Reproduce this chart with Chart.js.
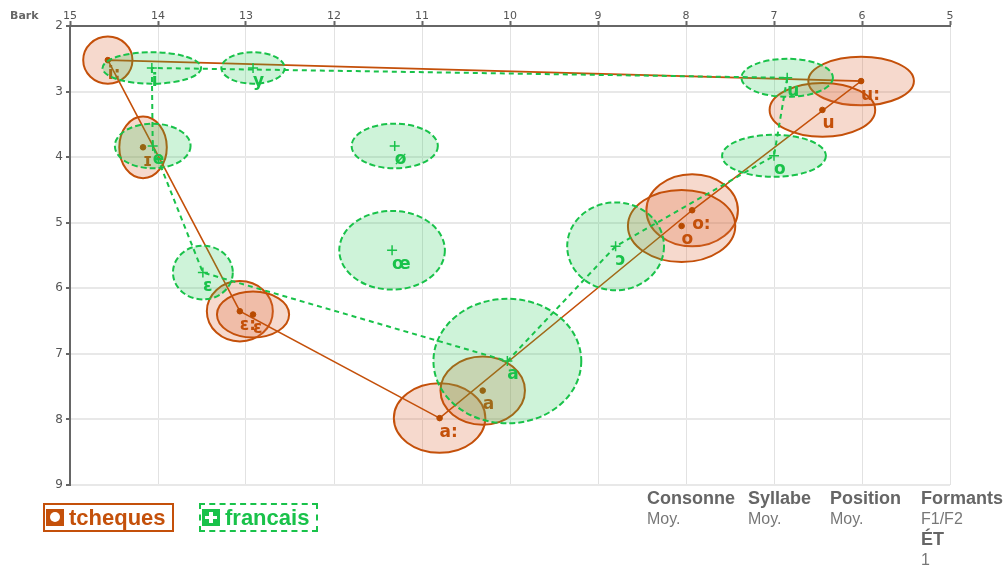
<!DOCTYPE html>
<html>
<head>
<meta charset="utf-8">
<script src="https://cdn.jsdelivr.net/npm/chart.js@4.4.1/dist/chart.umd.min.js"></script>
<style>
  body { margin: 0; background: #fff; }
  #wrap { position: relative; width: 1007px; height: 565px; }
  #vowels { position: absolute; left: 0; top: 0; }
  .bark { position: absolute; left: 10px; top: 9px; font: bold 11px "DejaVu Sans", sans-serif; color: #666; }
  .leg { position: absolute; top: 503px; height: 25px; display: flex; align-items: center; padding: 0 3px 0 1px;
         font: bold 22px "Liberation Sans", Arial, sans-serif; white-space: nowrap; }
  .leg .ic { flex: 0 0 18px; width: 18px; height: 17px; margin-right: 5px; position: relative; }
  .cz { left: 43px; width: 123px; border: 2px solid #c4500a; color: #c4500a; }
  .cz .ic { background: #c4500a; }
  .cz .ic::after { content: ""; position: absolute; left: 4px; top: 3px; width: 10px; height: 10px; background: #fff; border-radius: 50%; }
  .fr { left: 199px; width: 111px; border: 2px dashed #19c24a; color: #19c24a; }
  .fr .ic { background: #19c24a; }
  .fr .ic::before { content: ""; position: absolute; left: 7px; top: 3px; width: 4px; height: 11px; background: #fff; }
  .fr .ic::after { content: ""; position: absolute; left: 3px; top: 7px; width: 12px; height: 3px; background: #fff; }
  .tab { position: absolute; top: 488px; font-family: "Liberation Sans", Arial, sans-serif; color: #666; }
  .tab b { display: block; font-size: 18px; line-height: 21px; }
  .tab span { display: block; font-size: 16px; line-height: 20px; color: #777; }
</style>
</head>
<body>
<div id="wrap">
  <canvas id="vowels" width="1007" height="565"></canvas>
  <div class="bark">Bark</div>
  <div class="leg cz"><span class="ic"></span>tcheques</div>
  <div class="leg fr"><span class="ic"></span>francais</div>
  <div class="tab" style="left:647px"><b>Consonne</b><span>Moy.</span></div>
  <div class="tab" style="left:748px"><b>Syllabe</b><span>Moy.</span></div>
  <div class="tab" style="left:830px"><b>Position</b><span>Moy.</span></div>
  <div class="tab" style="left:921px"><b>Formants</b><span>F1/F2</span><b>ÉT</b><span>1</span></div>
</div>
<script>
// Czech vowels (Bark)
const czLabels = ["i:", "ɪ", "ɛ:", "ɛ", "a:", "a", "o:", "o", "u:", "u"];
const czF2 = [14.57, 14.17, 13.07, 12.92, 10.80, 10.31, 7.93, 8.05, 6.01, 6.45];
const czF1 = [2.52, 3.85, 6.35, 6.40, 7.98, 7.56, 4.81, 5.05, 2.84, 3.28];
const czSdF2 = [0.28, 0.27, 0.375, 0.41, 0.52, 0.48, 0.52, 0.61, 0.60, 0.60];
const czSdF1 = [0.36, 0.47, 0.46, 0.35, 0.53, 0.52, 0.55, 0.55, 0.37, 0.41];
const czPath = ["i:", "ɛ:", "a:", "o:", "u:", "i:"];

// French vowels (Bark)
const frLabels = ["i", "y", "e", "ø", "ɛ", "œ", "a", "ɔ", "o", "u"];
const frF2 = [14.07, 12.92, 14.06, 11.31, 13.49, 11.34, 10.03, 8.80, 7.00, 6.85];
const frF1 = [2.64, 2.64, 3.83, 3.83, 5.76, 5.42, 7.11, 5.36, 3.98, 2.79];
const frSdF2 = [0.56, 0.36, 0.43, 0.49, 0.34, 0.60, 0.84, 0.55, 0.59, 0.52];
const frSdF1 = [0.24, 0.24, 0.34, 0.34, 0.41, 0.60, 0.95, 0.67, 0.32, 0.29];
const frPath = ["i", "e", "ɛ", "a", "ɔ", "o", "u", "i"];

const xTicks = [15, 14, 13, 12, 11, 10, 9, 8, 7, 6, 5];
const yTicks = [2, 3, 4, 5, 6, 7, 8, 9];

const ORANGE = "#c4500a";
const GREEN = "#19c24a";

const points = (labels, f2, f1) => labels.map((l, i) => ({ x: f2[i], y: f1[i] }));
const pathPoints = (path, labels, f2, f1) => path.map(l => {
  const i = labels.indexOf(l);
  return { x: f2[i], y: f1[i] };
});

const vowelPlugin = {
  id: "vowelEllipses",
  beforeDatasetDraw(chart, args) {
    const e = chart.data.datasets[args.index].ellipses;
    if (!e) return;
    const { ctx, scales: { x, y } } = chart;
    ctx.save();
    ctx.lineWidth = 2;
    ctx.setLineDash(e.dash);
    e.f2.forEach((v, i) => {
      const cx = x.getPixelForValue(v);
      const cy = y.getPixelForValue(e.f1[i]);
      const rx = Math.abs(x.getPixelForValue(v + e.sd2[i]) - cx);
      const ry = Math.abs(y.getPixelForValue(e.f1[i] + e.sd1[i]) - cy);
      ctx.beginPath();
      ctx.ellipse(cx, cy, rx, ry, 0, 0, Math.PI * 2);
      ctx.fillStyle = e.fill;
      ctx.fill();
      ctx.strokeStyle = e.stroke;
      ctx.stroke();
    });
    ctx.restore();
  },
  afterDatasetDraw(chart, args) {
    const ds = chart.data.datasets[args.index];
    if (!ds.vowels) return;
    const { ctx, scales: { x, y } } = chart;
    ctx.save();
    ctx.font = "bold 17px 'DejaVu Sans', sans-serif";
    ctx.fillStyle = ds.labelColor;
    ctx.textAlign = "left";
    ctx.textBaseline = "middle";
    ds.data.forEach((p, i) => {
      ctx.fillText(ds.vowels[i], x.getPixelForValue(p.x), y.getPixelForValue(p.y) + 14);
    });
    ctx.restore();
  }
};

new Chart(document.getElementById("vowels"), {
  type: "scatter",
  data: {
    datasets: [
      {
        label: "francais",
        order: 1,
        data: points(frLabels, frF2, frF1),
        vowels: frLabels,
        labelColor: GREEN,
        pointStyle: "cross",
        pointRadius: 5,
        borderColor: GREEN,
        borderWidth: 1.5,
        showLine: false
      },
      {
        label: "francais path",
        order: 2,
        data: pathPoints(frPath, frLabels, frF2, frF1),
        ellipses: { f2: frF2, f1: frF1, sd2: frSdF2, sd1: frSdF1, fill: "rgba(30,200,80,0.22)", stroke: GREEN, dash: [6, 3] },
        showLine: true,
        borderColor: GREEN,
        borderWidth: 2,
        borderDash: [5, 4],
        pointRadius: 0
      },
      {
        label: "tcheques",
        order: 3,
        data: points(czLabels, czF2, czF1),
        vowels: czLabels,
        labelColor: ORANGE,
        pointRadius: 2.8,
        backgroundColor: "#b84a00",
        borderColor: "#b84a00",
        showLine: false
      },
      {
        label: "tcheques path",
        order: 4,
        data: pathPoints(czPath, czLabels, czF2, czF1),
        ellipses: { f2: czF2, f1: czF1, sd2: czSdF2, sd1: czSdF1, fill: "rgba(220,110,60,0.26)", stroke: ORANGE, dash: [] },
        showLine: true,
        borderColor: ORANGE,
        borderWidth: 1.6,
        pointRadius: 0
      }
    ]
  },
  options: {
    responsive: false,
    animation: false,
    devicePixelRatio: 1,
    layout: { padding: { left: 0, top: 0, right: 57, bottom: 80 } },
    plugins: { legend: { display: false }, tooltip: { enabled: false } },
    scales: {
      x: {
        type: "linear",
        position: "top",
        reverse: true,
        min: 5,
        max: 15,
        afterFit: s => { s.height = 26; },
        afterBuildTicks: s => { s.ticks = xTicks.map(v => ({ value: v })); },
        ticks: { color: "#555", font: { family: "DejaVu Sans", size: 11 }, padding: -2 },
        grid: { color: "#e2e2e2", lineWidth: 1, tickLength: 5, tickColor: "#666", tickWidth: 2 },
        border: { display: true, color: "#666", width: 2 }
      },
      y: {
        type: "linear",
        reverse: true,
        min: 2,
        max: 9,
        afterFit: s => { s.width = 70; },
        afterBuildTicks: s => { s.ticks = yTicks.map(v => ({ value: v })); },
        ticks: { color: "#555", font: { family: "DejaVu Sans", size: 12 }, padding: 3 },
        grid: { color: "#e8e8e8", lineWidth: 2, tickLength: 4, tickColor: "#666", tickWidth: 2 },
        border: { display: true, color: "#666", width: 2 }
      }
    }
  },
  plugins: [vowelPlugin]
});
</script>
</body>
</html>
